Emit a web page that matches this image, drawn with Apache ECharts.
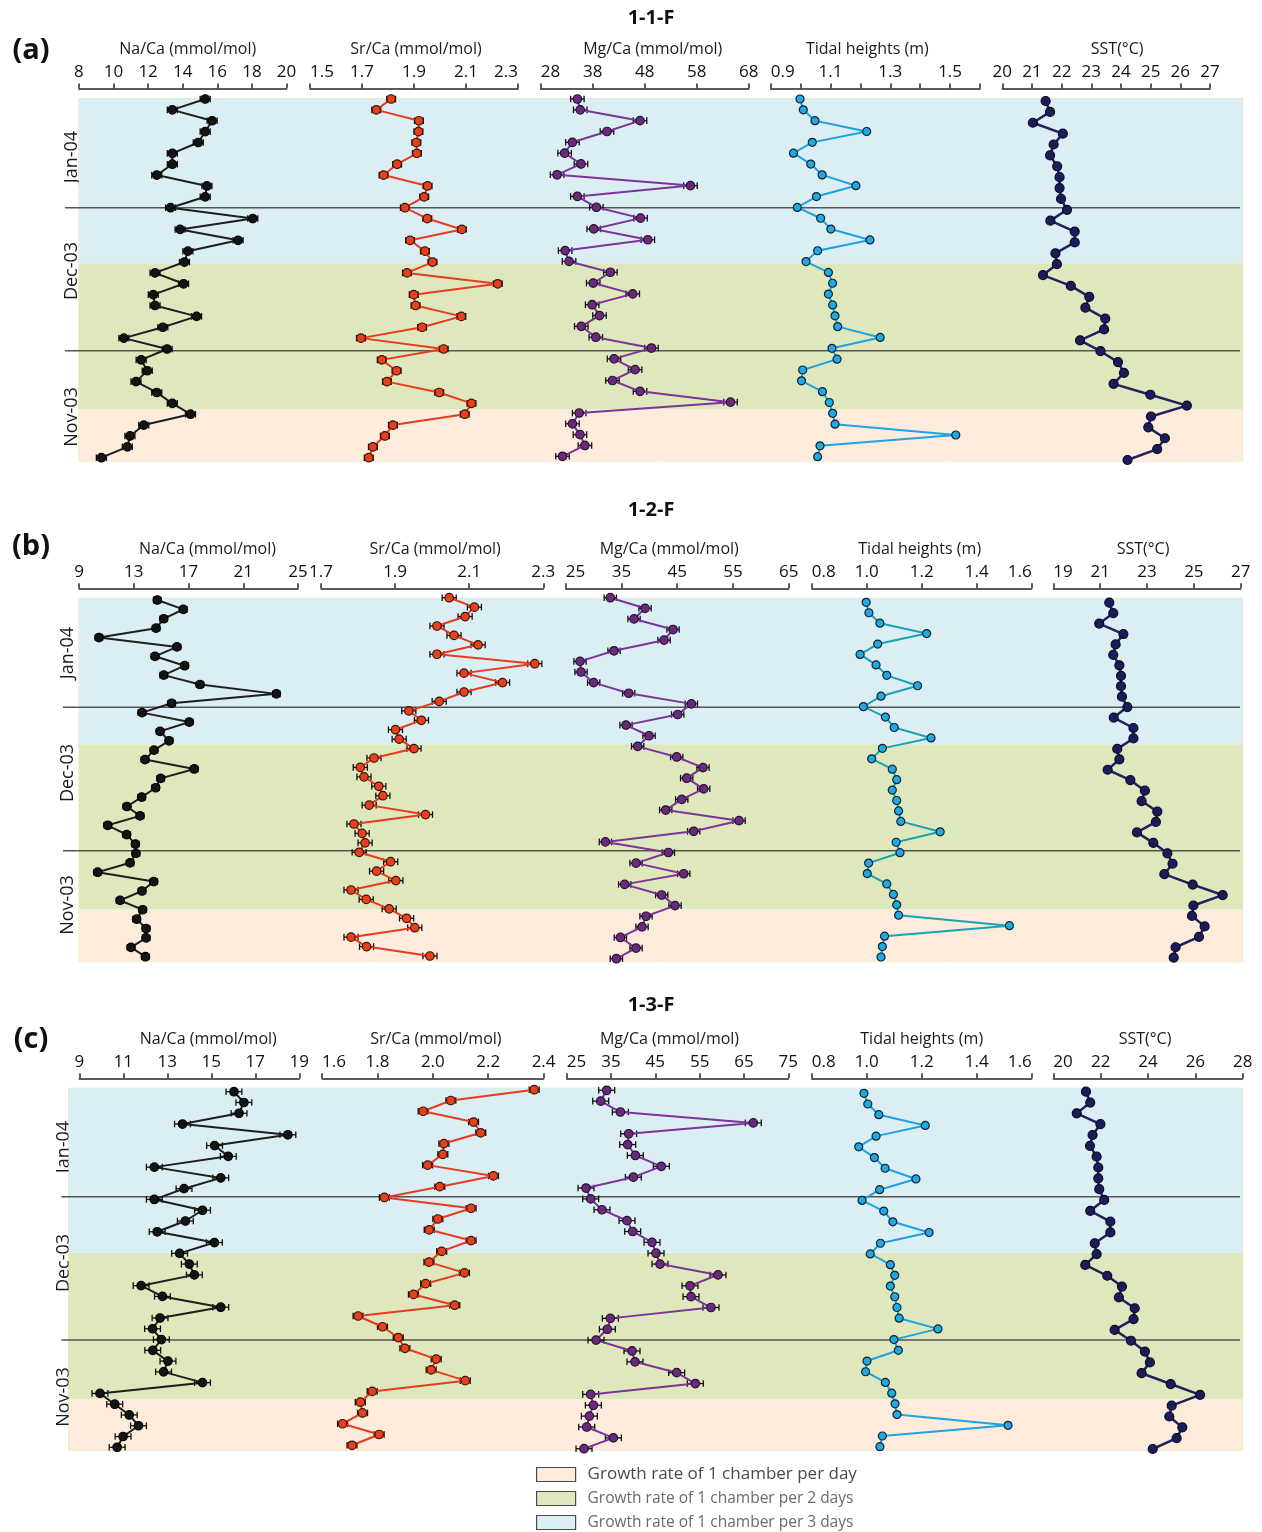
<!DOCTYPE html>
<html><head><meta charset="utf-8">
<script src="https://cdn.jsdelivr.net/npm/echarts@6/dist/echarts.min.js"></script>
<style>html,body{margin:0;padding:0;background:#fff}#c{width:1262px;height:1532px}</style>
</head><body><div id="c"></div>
<script>
// ---------------- DATA ----------------
// Panel (a) 1-1-F  (34 chambers, top = youngest)
const naA = [15.3,13.4,15.7,15.3,14.9,13.4,13.4,12.5,15.4,15.3,13.3,18.05,13.85,17.2,14.3,14.1,12.4,14.05,12.3,12.4,14.8,12.85,10.6,13.1,11.6,11.95,11.3,12.5,13.4,14.45,11.75,10.95,10.8,9.3];
const srA = [1.812,1.755,1.919,1.917,1.909,1.911,1.835,1.783,1.952,1.939,1.865,1.951,2.084,1.885,1.942,1.971,1.873,2.222,1.899,1.906,2.082,1.931,1.696,2.014,1.776,1.833,1.796,1.997,2.121,2.095,1.819,1.788,1.742,1.726];
const mgA = [35.05,35.6,47.1,40.75,34.1,32.6,35.75,31.15,56.8,35.05,38.7,47.2,38.2,48.6,32.7,33.45,41.4,38.1,45.7,37.9,39.3,35.8,38.6,49.3,42.1,46.15,41.8,47.1,64.5,35.4,34.1,35.55,36.5,32.2];
const tideA = [0.998,1.009,1.048,1.221,1.039,0.976,1.034,1.072,1.185,1.053,0.989,1.067,1.101,1.232,1.057,1.018,1.093,1.107,1.093,1.107,1.115,1.124,1.266,1.105,1.122,1.007,1.003,1.073,1.096,1.107,1.115,1.519,1.065,1.057];
const sstA = [21.46,21.61,21.03,22.04,21.73,21.61,21.85,21.93,21.93,21.98,22.18,21.62,22.44,22.44,21.79,21.84,21.37,22.31,22.93,22.80,23.47,23.43,22.62,23.31,23.9,24.1,23.75,24.99,26.22,25.01,24.92,25.48,25.22,24.22];
// Panel (b) 1-2-F
const naB = [14.72,16.62,15.19,14.63,10.46,16.16,14.55,16.72,15.19,17.84,23.42,15.77,13.6,17.06,14.92,15.58,14.48,13.82,17.42,14.97,14.6,13.58,12.5,13.46,11.1,12.48,13.12,13.16,12.73,10.36,14.46,13.6,12.0,13.65,13.21,13.9,13.9,12.8,13.85];
const srB = [2.046,2.114,2.089,2.013,2.059,2.124,2.013,2.277,2.086,2.19,2.086,2.019,1.937,1.971,1.901,1.911,1.951,1.843,1.806,1.816,1.856,1.867,1.83,1.982,1.789,1.811,1.819,1.803,1.888,1.85,1.902,1.781,1.822,1.884,1.931,1.953,1.781,1.823,1.994];
const mgB = [33.0,39.23,37.26,44.25,42.64,33.67,27.57,27.75,30.02,36.3,47.54,45.09,35.82,39.95,37.91,44.91,49.63,46.7,49.75,45.81,42.94,56.09,47.96,32.12,43.42,37.62,46.17,35.58,42.22,44.61,39.41,38.69,34.81,37.62,34.09];
const tideB = [0.998,1.008,1.048,1.218,1.04,0.976,1.034,1.073,1.185,1.052,0.988,1.068,1.1,1.234,1.057,1.018,1.093,1.109,1.093,1.109,1.116,1.124,1.267,1.107,1.121,1.007,1.002,1.073,1.097,1.109,1.116,1.519,1.065,1.057,1.052];
const sstB = [21.39,21.56,20.96,21.99,21.66,21.56,21.82,21.89,21.89,21.93,22.16,21.58,22.42,22.42,21.73,21.82,21.32,22.29,22.91,22.77,23.44,23.38,22.57,23.27,23.87,24.09,23.74,24.95,26.23,24.98,24.92,25.46,25.22,24.22,24.14];
// Panel (c) 1-3-F
const naC = [16.03,16.48,16.26,13.69,18.48,15.15,15.77,12.41,15.43,13.76,12.41,14.6,13.82,12.54,15.14,13.56,14.0,14.23,11.81,12.78,15.43,12.67,12.33,12.73,12.34,13.03,12.83,14.6,9.94,10.61,11.27,11.69,10.99,10.72];
const srC = [2.366,2.065,1.965,2.147,2.173,2.04,2.036,1.981,2.219,2.025,1.825,2.138,2.018,1.987,2.138,2.032,1.986,2.114,1.974,1.93,2.079,1.73,1.818,1.875,1.899,2.012,1.994,2.117,1.781,1.738,1.746,1.674,1.806,1.708];
const mgC = [34.02,32.67,37.11,67.1,38.98,38.76,40.49,46.35,40.04,29.36,30.41,32.97,38.61,39.89,44.25,45.15,46.05,59.14,52.82,53.05,57.56,34.85,34.17,31.62,39.74,40.41,49.81,54.02,30.41,31.02,30.11,29.51,35.53,28.91];
const tideC = [0.99,1.004,1.044,1.213,1.034,0.971,1.028,1.067,1.179,1.047,0.983,1.062,1.095,1.227,1.05,1.013,1.086,1.102,1.086,1.102,1.11,1.118,1.259,1.099,1.115,1.001,0.996,1.068,1.091,1.103,1.11,1.514,1.057,1.048];
const sstC = [21.38,21.56,20.99,21.99,21.66,21.55,21.83,21.9,21.9,21.94,22.15,21.56,22.41,22.41,21.75,21.83,21.35,22.28,22.9,22.77,23.44,23.39,22.59,23.28,23.87,24.08,23.73,24.96,26.2,25.0,24.9,25.45,25.21,24.2];

// analytical error (± half-width)
const errA = {na:0.29, sr:0.017, mg:1.3};
const errB = {na:0.27, sr:0.019, mg:1.1};
const errC = {na:0.36, sr:0.018, mg:1.8};

// tick values
const naTicksA = [8,10,12,14,16,18,20];
const srTicksA = [1.5,1.7,1.9,2.1,2.3];
const mgTicksA = [28,38,48,58,68];
const tideTicksA = [0.9,1.0,1.1,1.2,1.3,1.4,1.5,1.6];
const tideLabelsA = [0.9,1.1,1.3,1.5];
const sstTicksA = [20,21,22,23,24,25,26,27];
const naTicksB = [9,13,17,21,25];
const srTicksB = [1.7,1.9,2.1,2.3];
const mgTicksB = [25,35,45,55,65];
const tideTicksB = [0.8,1.0,1.2,1.4,1.6];
const sstTicksB = [19,21,23,25,27];
const naTicksC = [9,11,13,15,17,19];
const srTicksC = [1.6,1.8,2.0,2.2,2.4];
const mgTicksC = [25,35,45,55,65,75];
const tideTicksC = [0.8,1.0,1.2,1.4,1.6];
const sstTicksC = [20,22,24,26,28];

// growth-rate zones: boundaries in chamber-index units (of the Na/Ca column), top->bottom
const zoneEdgesA = [15.12, 28.55];
const zoneEdgesB = [15.37, 32.95];
const zoneEdgesC = [14.94, 28.52];
// month boundaries (chamber-index units)
const monthLineA = [10.0, 23.15];
const monthLineB = [11.43, 26.71];
const monthLineC = [9.74, 23.04];
const months = ['Jan-04','Dec-03','Nov-03'];
const zoneNames = ['Growth rate of 1 chamber per day','Growth rate of 1 chamber per 2 days','Growth rate of 1 chamber per 3 days'];

// ---------------- STYLE / LAYOUT ----------------
const FONT = "'Open Sans','Noto Sans',sans-serif";
const zoneColors = ['#fdebdb','#dfe8bd','#dbeef3']; // day, 2 days, 3 days
const styles = {
  na:  {line:'#1e1e1e', fill:'#141414', border:'#000', lw:2, size:8.5},
  sr:  {line:'#ea3a1e', fill:'#e8401c', border:'#3a1208', lw:2, size:8.5},
  mg:  {line:'#7b3598', fill:'#6a2a7c', border:'#26102e', lw:2, size:8.5},
  tide:{line:'#1ba3e3', fill:'#22a9e2', border:'#0e2434', lw:2, size:8},
  tideT:{line:'#18a2b4', fill:'#22a9e2', border:'#0e2434', lw:2, size:8},
  sst: {line:'#20215e', fill:'#1b1c5a', border:'#0a0a22', lw:2.5, size:9}
};

// ma / xa : alignment of the min / max tick label ; ns : horizontal shift of the axis title
const panels = [
  {title:'1-1-F', letter:'(a)', titleY:18, letterY:51, bgTop:98.5, bgBottom:461, bgLeft:78.9, lineLeft:65, monthX:72, monthY:[157,271,417],
   zones:zoneEdgesA, lines:monthLineA,
   cols:[
    {name:'Na/Ca (mmol/mol)', data:naA, err:errA.na, l:78.9, r:286.5, min:8, max:20, ticks:naTicksA, labels:naTicksA, dec:0, y0:99, y1:457.7, st:'na', ma:'center', xa:'center', ns:5},
    {name:'Sr/Ca (mmol/mol)', data:srA, err:errA.sr, l:310, r:518, min:1.5, max:2.3, ticks:srTicksA, labels:srTicksA, dec:1, y0:99, y1:457.7, st:'sr', ma:'left', xa:'right', ns:2},
    {name:'Mg/Ca (mmol/mol)', data:mgA, err:errA.mg, l:540.7, r:748.7, min:28, max:68, ticks:mgTicksA, labels:mgTicksA, dec:0, y0:99, y1:456.3, st:'mg', ma:'left', xa:'center', ns:8},
    {name:'Tidal heights (m)', data:tideA, err:null, l:770.7, r:980, min:0.9, max:1.6, ticks:tideTicksA, labels:tideLabelsA, dec:1, y0:99, y1:456.7, st:'tide', ma:'left', xa:'center', ns:-8},
    {name:'SST(°C)', data:sstA, err:null, l:1002.3, r:1210, min:20, max:27, ticks:sstTicksA, labels:sstTicksA, dec:0, y0:101, y1:460, st:'sst', ma:'center', xa:'center', ns:11}
   ]},
  {title:'1-2-F', letter:'(b)', titleY:510, letterY:547, bgTop:598.3, bgBottom:961.7, bgLeft:79, lineLeft:63, monthX:68, monthY:[653,773,905],
   zones:zoneEdgesB, lines:monthLineB,
   cols:[
    {name:'Na/Ca (mmol/mol)', data:naB, err:errB.na, l:79, r:298, min:9, max:25, ticks:naTicksB, labels:naTicksB, dec:0, y0:600, y1:956.7, st:'na', ma:'center', xa:'center', ns:19},
    {name:'Sr/Ca (mmol/mol)', data:srB, err:errB.sr, l:321, r:543.3, min:1.7, max:2.3, ticks:srTicksB, labels:srTicksB, dec:1, y0:597.7, y1:956, st:'sr', ma:'center', xa:'center', ns:3},
    {name:'Mg/Ca (mmol/mol)', data:mgB, err:errB.mg, l:565.7, r:788.7, min:25, max:65, ticks:mgTicksB, labels:mgTicksB, dec:0, y0:597.7, y1:958.7, st:'mg', ma:'left', xa:'center', ns:-8},
    {name:'Tidal heights (m)', data:tideB, err:null, l:811.7, r:1031.7, min:0.8, max:1.6, ticks:tideTicksB, labels:tideTicksB, dec:1, y0:602.3, y1:957, st:'tideT', ma:'left', xa:'right', ns:-2},
    {name:'SST(°C)', data:sstB, err:null, l:1053.3, r:1240.7, min:19, max:27, ticks:sstTicksB, labels:sstTicksB, dec:0, y0:602.7, y1:957.7, st:'sst', ma:'left', xa:'center', ns:-4}
   ]},
  {title:'1-3-F', letter:'(c)', titleY:1005, letterY:1040, bgTop:1088.3, bgBottom:1450.5, bgLeft:68.6, lineLeft:61.5, monthX:64, monthY:[1147,1263,1397],
   zones:zoneEdgesC, lines:monthLineC,
   cols:[
    {name:'Na/Ca (mmol/mol)', data:naC, err:errC.na, l:79.3, r:299.3, min:9, max:19, ticks:naTicksC, labels:naTicksC, dec:0, y0:1091.7, y1:1447.3, st:'na', ma:'center', xa:'center', ns:19},
    {name:'Sr/Ca (mmol/mol)', data:srC, err:errC.sr, l:322.1, r:543.6, min:1.6, max:2.4, ticks:srTicksC, labels:srTicksC, dec:1, y0:1089.7, y1:1445.3, st:'sr', ma:'left', xa:'center', ns:3},
    {name:'Mg/Ca (mmol/mol)', data:mgC, err:errC.mg, l:566.7, r:788.3, min:25, max:75, ticks:mgTicksC, labels:mgTicksC, dec:0, y0:1090.3, y1:1448.7, st:'mg', ma:'left', xa:'center', ns:-8},
    {name:'Tidal heights (m)', data:tideC, err:null, l:811.7, r:1031.7, min:0.8, max:1.6, ticks:tideTicksC, labels:tideTicksC, dec:1, y0:1093.3, y1:1446.7, st:'tide', ma:'left', xa:'right', ns:0},
    {name:'SST(°C)', data:sstC, err:null, l:1053.3, r:1242.7, min:20, max:28, ticks:sstTicksC, labels:sstTicksC, dec:0, y0:1091.7, y1:1449, st:'sst', ma:'left', xa:'center', ns:-3}
   ]}
];
const BG_RIGHT = 1242.7, LINE_RIGHT = 1240;

// ---------------- BUILD ----------------
const grids = [], xAxes = [], yAxes = [], series = [], graphics = [];

function yRange(n, y0, y1, top, bottom){
  const s = (y1 - y0) / (n - 1);
  return {min: -(y0 - top) / s, max: (n - 1) + (bottom - y1) / s};
}
function errRender(params, api){
  const i = api.value(2);
  const a = api.coord([api.value(0), i]);
  const b = api.coord([api.value(1), i]);
  const h = 3.3, st = {stroke:'#111', lineWidth:1.3};
  return {type:'group', children:[
    {type:'line', shape:{x1:a[0], y1:a[1], x2:b[0], y2:b[1]}, style:st},
    {type:'line', shape:{x1:a[0], y1:a[1]-h, x2:a[0], y2:a[1]+h}, style:st},
    {type:'line', shape:{x1:b[0], y1:b[1]-h, x2:b[0], y2:b[1]+h}, style:st}
  ]};
}
function bandRender(params, api){
  const p0 = api.coord([0, api.value(0)]);
  const p1 = api.coord([1, api.value(1)]);
  return {type:'rect', shape:{x:p0[0], y:p0[1], width:p1[0]-p0[0], height:p1[1]-p0[1]}, style:{fill: api.visual('color')}};
}
function hlineRender(params, api){
  const p0 = api.coord([0, api.value(0)]);
  const p1 = api.coord([1, api.value(0)]);
  return {type:'line', shape:{x1:p0[0], y1:p0[1], x2:p1[0], y2:p1[1]}, style:{stroke:'#555', lineWidth:1.5}};
}

panels.forEach(p => {
  const first = p.cols[0];
  const rng = yRange(first.data.length, first.y0, first.y1, p.bgTop, p.bgBottom);
  const H = p.bgBottom - p.bgTop;

  // background zone grid
  let gi = grids.length;
  grids.push({left:p.bgLeft, top:p.bgTop, width:BG_RIGHT - p.bgLeft, height:H, show:true, borderColor:'#e4eab9', borderWidth:1});
  xAxes.push({gridIndex:gi, type:'value', min:0, max:1, show:false});
  yAxes.push({gridIndex:gi, type:'value', inverse:true, min:rng.min, max:rng.max, show:false});
  const bounds = [[p.zones[1], rng.max], [p.zones[0], p.zones[1]], [rng.min, p.zones[0]]];
  bounds.forEach((b, k) => {
    series.push({type:'custom', name:zoneNames[k], xAxisIndex:xAxes.length-1, yAxisIndex:yAxes.length-1,
      renderItem:bandRender, data:[b], encode:{y:[0,1]}, z:0, silent:true,
      itemStyle:{color:zoneColors[k], borderColor:'#555', borderWidth:1}});
  });

  // month line grid
  grids.push({left:p.lineLeft, top:p.bgTop, width:LINE_RIGHT - p.lineLeft, height:H});
  xAxes.push({gridIndex:gi+1, type:'value', min:0, max:1, show:false});
  yAxes.push({gridIndex:gi+1, type:'value', inverse:true, min:rng.min, max:rng.max, show:false});
  series.push({type:'custom', xAxisIndex:xAxes.length-1, yAxisIndex:yAxes.length-1, renderItem:hlineRender,
    data:p.lines.map(v => [v]), encode:{y:0}, z:1, silent:true});

  // data columns
  p.cols.forEach(c => {
    const g = grids.length;
    const n = c.data.length;
    const r = yRange(n, c.y0, c.y1, p.bgTop, p.bgBottom);
    const pad = c.ns >= 0 ? [0,0,0,2*c.ns] : [0,-2*c.ns,0,0];
    grids.push({left:c.l, top:p.bgTop, width:c.r - c.l, height:H});
    xAxes.push({gridIndex:g, type:'value', position:'top', offset:10, min:c.min, max:c.max,
      axisLine:{show:true, onZero:false, lineStyle:{color:'#262626', width:1.5}},
      axisTick:{show:true, length:5, lineStyle:{color:'#262626', width:1.5}, customValues:c.ticks},
      axisLabel:{show:true, customValues:c.labels, formatter:v => Number(v).toFixed(c.dec), fontSize:17, color:'#111', margin:8, fontFamily:FONT,
        alignMinLabel:c.ma, alignMaxLabel:c.xa},
      splitLine:{show:false},
      name:c.name, nameLocation:'middle', nameGap:31, nameTextStyle:{fontSize:16, color:'#1a1a1a', fontFamily:FONT, padding:pad}});
    yAxes.push({gridIndex:g, type:'value', inverse:true, min:r.min, max:r.max, show:false});
    const st = styles[c.st];
    const ax = xAxes.length - 1, ay = yAxes.length - 1;
    if (c.err !== null) {
      series.push({type:'custom', xAxisIndex:ax, yAxisIndex:ay, renderItem:errRender, silent:true, z:3,
        data:c.data.map((v,i) => [v - c.err, v + c.err, i]), encode:{x:[0,1], y:2}});
    }
    series.push({type:'line', xAxisIndex:ax, yAxisIndex:ay, data:c.data.map((v,i) => [v, i]),
      symbol:'circle', symbolSize:st.size, showSymbol:true, clip:false, z:4,
      lineStyle:{color:st.line, width:st.lw}, itemStyle:{color:st.fill, borderColor:st.border, borderWidth:1.2},
      emphasis:{disabled:true}});
  });

  // texts
  graphics.push({type:'text', x:651, y:p.titleY, style:{text:p.title, fontSize:20, fontWeight:'bold', fontFamily:FONT, fill:'#111', align:'center', verticalAlign:'middle'}});
  graphics.push({type:'text', x:31, y:p.letterY, style:{text:p.letter, fontSize:29, fontWeight:'bold', fontFamily:FONT, fill:'#111', align:'center', verticalAlign:'middle'}});
  months.forEach((m, k) => {
    graphics.push({type:'text', x:p.monthX, y:p.monthY[k], rotation:Math.PI/2,
      style:{text:m, fontSize:18, fontFamily:FONT, fill:'#1a1a1a', align:'center', verticalAlign:'middle'}});
  });
});

const chart = echarts.init(document.getElementById('c'), null, {renderer:'canvas'});
chart.setOption({
  animation:false,
  backgroundColor:'#ffffff',
  textStyle:{fontFamily:FONT},
  grid:grids, xAxis:xAxes, yAxis:yAxes, series:series, graphic:graphics,
  legend:{orient:'vertical', left:536, top:1466, padding:0, itemWidth:39, itemHeight:14, itemGap:7, selectedMode:false,
    icon:'rect',
    data:zoneNames.map((nm, k) => ({name:nm, itemStyle:{color:zoneColors[k], borderColor:'#4a4a4a', borderWidth:1.2},
      textStyle:{color: k === 0 ? '#4a4a4a' : '#6a6a6a', fontSize: k === 0 ? 17 : 15.5}})),
    textStyle:{fontSize:16, lineHeight:17, fontFamily:FONT, padding:[0,0,0,7]}}
});
</script></body></html>
